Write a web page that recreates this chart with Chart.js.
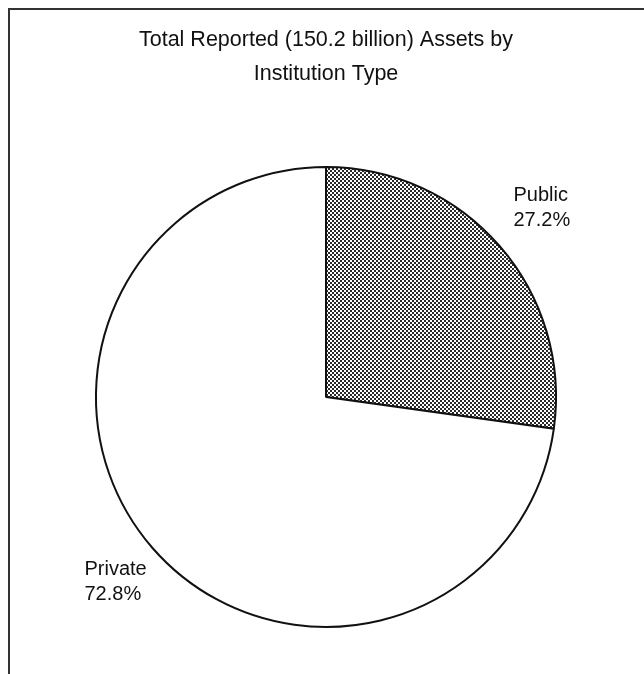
<!DOCTYPE html>
<html>
<head>
<meta charset="utf-8">
<script src="https://cdn.jsdelivr.net/npm/chart.js@4.4.0/dist/chart.umd.min.js"></script>
<style>
  html, body { margin: 0; padding: 0; background: #fff; }
  #wrap { width: 644px; height: 674px; position: relative; }
</style>
</head>
<body>
<div id="wrap"><canvas id="chart"></canvas></div>
<script>
var titleLines = ['Total Reported (150.2 billion) Assets by', 'Institution Type'];
var labels = ['Public', 'Private'];
var shares = [27.2, 72.8];
var percentText = ['27.2%', '72.8%'];

// dotted fill like the scanned original
function dots() {
  var c = document.createElement('canvas');
  c.width = 4; c.height = 4;
  var g = c.getContext('2d');
  g.fillStyle = '#fff';
  g.fillRect(0, 0, 4, 4);
  g.fillStyle = '#2a2a2a';
  g.fillRect(0, 0, 2, 2);
  g.fillRect(2, 2, 2, 2);
  return g.createPattern(c, 'repeat');
}

// frame: left and top rules only
var frame = {
  id: 'frame',
  beforeDraw: function (chart) {
    var ctx = chart.ctx;
    ctx.save();
    ctx.strokeStyle = '#333';
    ctx.lineWidth = 2;
    ctx.beginPath();
    ctx.moveTo(9, chart.height);
    ctx.lineTo(9, 9);
    ctx.lineTo(chart.width, 9);
    ctx.stroke();
    ctx.restore();
  }
};

// slice labels placed from the arc geometry
var sliceLabels = {
  id: 'sliceLabels',
  afterDatasetsDraw: function (chart) {
    var ctx = chart.ctx;
    var arcs = chart.getDatasetMeta(0).data;
    var spots = [[0.815, -0.875], [-1.05, 0.75]];
    ctx.save();
    ctx.font = '20px "Liberation Sans", Arial, sans-serif';
    ctx.fillStyle = '#111';
    ctx.textAlign = 'left';
    ctx.textBaseline = 'middle';
    arcs.forEach(function (arc, i) {
      var r = arc.outerRadius;
      var x = arc.x + spots[i][0] * r;
      var y = arc.y + spots[i][1] * r;
      ctx.fillText(labels[i], x, y);
      ctx.fillText(percentText[i], x, y + 25);
    });
    ctx.restore();
  }
};

new Chart(document.getElementById('chart'), {
  type: 'pie',
  data: {
    labels: labels,
    datasets: [{
      data: shares,
      backgroundColor: [dots(), '#ffffff'],
      borderColor: '#111',
      borderWidth: 2
    }]
  },
  options: {
    responsive: true,
    maintainAspectRatio: false,
    animation: false,
    layout: { padding: { left: 8, right: 0, top: 0, bottom: 46 } },
    plugins: {
      legend: { display: false },
      tooltip: { enabled: false },
      title: {
        display: true,
        text: titleLines,
        color: '#111',
        font: { family: '"Liberation Sans", Arial, sans-serif', size: 21.5, weight: 'normal', lineHeight: 1.58 },
        padding: { top: 23, bottom: 75 }
      }
    }
  },
  plugins: [frame, sliceLabels]
});
</script>
</body>
</html>
